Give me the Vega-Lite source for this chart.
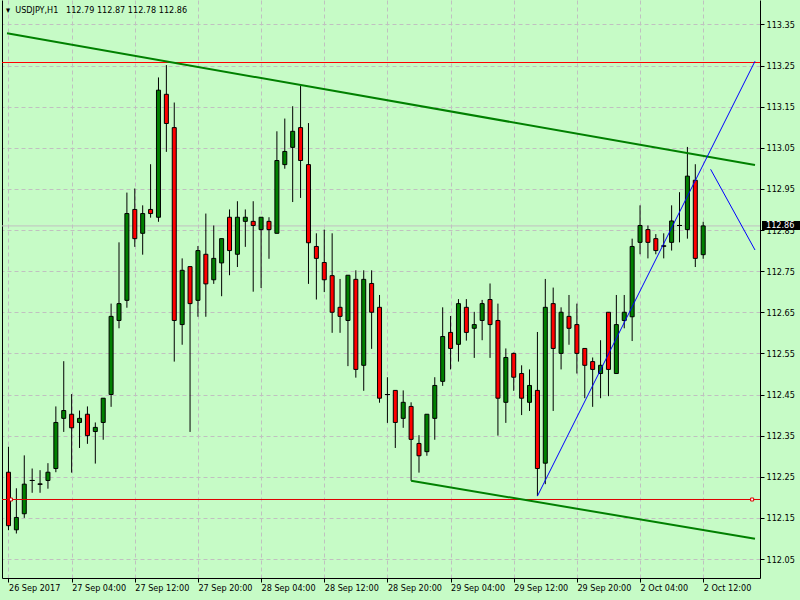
{
  "$schema": "https://vega.github.io/schema/vega-lite/v6.json",
  "width": 758,
  "height": 578,
  "autosize": {"type": "none"},
  "padding": {"left": 2, "top": 0, "right": 40, "bottom": 22},
  "background": "#c6fbc6",
  "title": {
    "text": "▾\u00a0\u00a0USDJPY,H1\u00a0\u00a0 112.79 112.87 112.78 112.86",
    "anchor": "start",
    "frame": "group",
    "orient": "top",
    "offset": -15,
    "baseline": "top",
    "dx": 4,
    "font": "DejaVu Sans Condensed, Liberation Sans",
    "fontSize": 9,
    "fontWeight": "normal",
    "color": "#000000"
  },
  "config": {
    "view": {"stroke": null},
    "axis": {"labelFont": "DejaVu Sans Condensed, Liberation Sans", "labelFontSize": 9, "labelColor": "#000000", "title": null}
  },
  "datasets": {
    "candles": [
      {"i":0,"o":112.261,"h":112.323,"l":112.120,"c":112.131},
      {"i":1,"o":112.121,"h":112.222,"l":112.112,"c":112.151},
      {"i":2,"o":112.160,"h":112.302,"l":112.150,"c":112.232},
      {"i":3,"o":112.241,"h":112.270,"l":112.211,"c":112.241},
      {"i":4,"o":112.232,"h":112.266,"l":112.211,"c":112.232},
      {"i":5,"o":112.241,"h":112.283,"l":112.221,"c":112.261},
      {"i":6,"o":112.270,"h":112.421,"l":112.261,"c":112.382},
      {"i":7,"o":112.392,"h":112.531,"l":112.359,"c":112.411},
      {"i":8,"o":112.402,"h":112.451,"l":112.260,"c":112.369},
      {"i":9,"o":112.382,"h":112.411,"l":112.320,"c":112.392},
      {"i":10,"o":112.402,"h":112.421,"l":112.330,"c":112.350},
      {"i":11,"o":112.360,"h":112.382,"l":112.282,"c":112.370},
      {"i":12,"o":112.382,"h":112.441,"l":112.340,"c":112.441},
      {"i":13,"o":112.450,"h":112.671,"l":112.420,"c":112.640},
      {"i":14,"o":112.630,"h":112.820,"l":112.611,"c":112.671},
      {"i":15,"o":112.679,"h":112.941,"l":112.661,"c":112.890},
      {"i":16,"o":112.900,"h":112.951,"l":112.809,"c":112.829},
      {"i":17,"o":112.842,"h":112.910,"l":112.790,"c":112.890},
      {"i":18,"o":112.900,"h":113.010,"l":112.880,"c":112.890},
      {"i":19,"o":112.881,"h":113.221,"l":112.870,"c":113.190},
      {"i":20,"o":113.180,"h":113.251,"l":113.040,"c":113.109},
      {"i":21,"o":113.099,"h":113.160,"l":112.530,"c":112.630},
      {"i":22,"o":112.620,"h":112.781,"l":112.571,"c":112.752},
      {"i":23,"o":112.761,"h":112.761,"l":112.359,"c":112.671},
      {"i":24,"o":112.679,"h":112.811,"l":112.639,"c":112.800},
      {"i":25,"o":112.791,"h":112.890,"l":112.639,"c":112.719},
      {"i":26,"o":112.729,"h":112.861,"l":112.719,"c":112.781},
      {"i":27,"o":112.770,"h":112.829,"l":112.689,"c":112.829},
      {"i":28,"o":112.881,"h":112.900,"l":112.740,"c":112.800},
      {"i":29,"o":112.791,"h":112.920,"l":112.760,"c":112.881},
      {"i":30,"o":112.871,"h":112.900,"l":112.809,"c":112.881},
      {"i":31,"o":112.871,"h":112.920,"l":112.700,"c":112.861},
      {"i":32,"o":112.851,"h":112.881,"l":112.709,"c":112.881},
      {"i":33,"o":112.871,"h":112.881,"l":112.780,"c":112.851},
      {"i":34,"o":112.842,"h":113.090,"l":112.842,"c":113.019},
      {"i":35,"o":113.009,"h":113.121,"l":112.999,"c":113.041},
      {"i":36,"o":113.051,"h":113.151,"l":112.918,"c":113.090},
      {"i":37,"o":113.099,"h":113.200,"l":112.928,"c":113.019},
      {"i":38,"o":113.009,"h":113.110,"l":112.719,"c":112.819},
      {"i":39,"o":112.810,"h":112.842,"l":112.681,"c":112.781},
      {"i":40,"o":112.771,"h":112.851,"l":112.699,"c":112.729},
      {"i":41,"o":112.739,"h":112.842,"l":112.600,"c":112.650},
      {"i":42,"o":112.662,"h":112.731,"l":112.600,"c":112.640},
      {"i":43,"o":112.630,"h":112.740,"l":112.519,"c":112.740},
      {"i":44,"o":112.730,"h":112.752,"l":112.491,"c":112.511},
      {"i":45,"o":112.521,"h":112.752,"l":112.459,"c":112.730},
      {"i":46,"o":112.720,"h":112.752,"l":112.561,"c":112.650},
      {"i":47,"o":112.662,"h":112.692,"l":112.430,"c":112.441},
      {"i":48,"o":112.450,"h":112.492,"l":112.381,"c":112.450},
      {"i":49,"o":112.460,"h":112.460,"l":112.320,"c":112.382},
      {"i":50,"o":112.392,"h":112.460,"l":112.369,"c":112.431},
      {"i":51,"o":112.421,"h":112.431,"l":112.240,"c":112.341},
      {"i":52,"o":112.331,"h":112.351,"l":112.260,"c":112.301},
      {"i":53,"o":112.311,"h":112.402,"l":112.301,"c":112.402},
      {"i":54,"o":112.392,"h":112.492,"l":112.340,"c":112.472},
      {"i":55,"o":112.482,"h":112.662,"l":112.471,"c":112.591},
      {"i":56,"o":112.601,"h":112.641,"l":112.511,"c":112.562},
      {"i":57,"o":112.572,"h":112.682,"l":112.530,"c":112.671},
      {"i":58,"o":112.662,"h":112.682,"l":112.581,"c":112.601},
      {"i":59,"o":112.611,"h":112.651,"l":112.539,"c":112.620},
      {"i":60,"o":112.630,"h":112.680,"l":112.582,"c":112.671},
      {"i":61,"o":112.681,"h":112.720,"l":112.539,"c":112.620},
      {"i":62,"o":112.630,"h":112.671,"l":112.350,"c":112.441},
      {"i":63,"o":112.431,"h":112.562,"l":112.381,"c":112.540},
      {"i":64,"o":112.550,"h":112.552,"l":112.459,"c":112.492},
      {"i":65,"o":112.501,"h":112.521,"l":112.400,"c":112.441},
      {"i":66,"o":112.431,"h":112.511,"l":112.410,"c":112.472},
      {"i":67,"o":112.460,"h":112.602,"l":112.203,"c":112.270},
      {"i":68,"o":112.283,"h":112.731,"l":112.232,"c":112.662},
      {"i":69,"o":112.671,"h":112.710,"l":112.410,"c":112.562},
      {"i":70,"o":112.550,"h":112.662,"l":112.511,"c":112.650},
      {"i":71,"o":112.640,"h":112.692,"l":112.571,"c":112.611},
      {"i":72,"o":112.620,"h":112.671,"l":112.501,"c":112.550},
      {"i":73,"o":112.562,"h":112.562,"l":112.441,"c":112.521},
      {"i":74,"o":112.530,"h":112.540,"l":112.420,"c":112.511},
      {"i":75,"o":112.501,"h":112.582,"l":112.441,"c":112.521},
      {"i":76,"o":112.650,"h":112.650,"l":112.446,"c":112.511},
      {"i":77,"o":112.501,"h":112.692,"l":112.500,"c":112.620},
      {"i":78,"o":112.630,"h":112.692,"l":112.611,"c":112.650},
      {"i":79,"o":112.639,"h":112.829,"l":112.580,"c":112.810},
      {"i":80,"o":112.820,"h":112.910,"l":112.791,"c":112.861},
      {"i":81,"o":112.851,"h":112.861,"l":112.781,"c":112.820},
      {"i":82,"o":112.829,"h":112.840,"l":112.791,"c":112.800},
      {"i":83,"o":112.811,"h":112.842,"l":112.781,"c":112.811},
      {"i":84,"o":112.820,"h":112.910,"l":112.800,"c":112.872},
      {"i":85,"o":112.861,"h":112.942,"l":112.820,"c":112.861},
      {"i":86,"o":112.851,"h":113.052,"l":112.829,"c":112.981},
      {"i":87,"o":112.971,"h":113.010,"l":112.760,"c":112.781},
      {"i":88,"o":112.790,"h":112.870,"l":112.780,"c":112.860}
    ],
    "current": [{"price": 112.86}],
    "hlines": [{"name": "resistance", "p": 113.2573}, {"name": "support", "p": 112.1947}],
    "anchors": [{"i": 0.31, "p": 112.1947}, {"i": 94.2, "p": 112.1947}],
    "trend": [
      {"id": "upper", "i": -0.1875, "p": 113.3283},
      {"id": "upper", "i": 94.5625, "p": 113.0081},
      {"id": "lower", "i": 51, "p": 112.2404},
      {"id": "lower", "i": 94.5625, "p": 112.0991}
    ],
    "blue": [
      {"id": "rise", "i": 67, "p": 112.203},
      {"id": "rise", "i": 94.5625, "p": 113.2605},
      {"id": "fall", "i": 88.94, "p": 112.9976},
      {"id": "fall", "i": 94.5625, "p": 112.8014}
    ]
  },
  "layer": [
    {
      "data": {"name": "current"},
      "mark": {"type": "rule", "color": "#c0c0c0", "strokeWidth": 1},
      "encoding": {
        "y": {"field": "price", "type": "quantitative", "scale": {"domain": [112.0038, 113.4093], "nice": false, "zero": false}, "axis": null}
      }
    },
    {
      "data": {"name": "candles"},
      "mark": {"type": "rule", "color": "#000000", "strokeWidth": 1},
      "encoding": {
        "x": {
          "field": "i", "type": "quantitative",
          "scale": {"domain": [-0.1875, 94.5625], "nice": false, "zero": false},
          "axis": {
            "orient": "bottom",
            "values": [0,4,8,12,16,20,24,28,32,36,40,44,48,52,56,60,64,68,72,76,80,84,88,92],
            "labelExpr": "datum.value == 0 ? '26 Sep 2017' : datum.value == 8 ? '27 Sep 04:00' : datum.value == 16 ? '27 Sep 12:00' : datum.value == 24 ? '27 Sep 20:00' : datum.value == 32 ? '28 Sep 04:00' : datum.value == 40 ? '28 Sep 12:00' : datum.value == 48 ? '28 Sep 20:00' : datum.value == 56 ? '29 Sep 04:00' : datum.value == 64 ? '29 Sep 12:00' : datum.value == 72 ? '29 Sep 20:00' : datum.value == 80 ? '2 Oct 04:00' : datum.value == 88 ? '2 Oct 12:00' : ''",
            "labelAlign": "left",
            "labelBaseline": "top",
            "labelPadding": 1,
            "labelFlush": false,
            "labelOverlap": false,
            "labelBound": false,
            "tickSize": 4,
            "tickColor": "#000000",
            "tickOpacity": {"condition": {"test": "datum.value % 8 !== 0", "value": 0}, "value": 1},
            "domainColor": "#000000",
            "grid": true,
            "gridColor": {"condition": {"test": "datum.value == 4 || datum.value == 28 || datum.value == 52 || datum.value == 76", "value": "#000000"}, "value": "#c0c0c0"},
            "gridDash": {"condition": {"test": "datum.value == 4 || datum.value == 28 || datum.value == 52 || datum.value == 76", "value": [3, 2]}, "value": [4, 3]},
            "title": null
          }
        },
        "y": {
          "field": "l", "type": "quantitative",
          "scale": {"domain": [112.0038, 113.4093], "nice": false, "zero": false},
          "axis": {
            "orient": "right",
            "values": [112.05,112.15,112.25,112.35,112.45,112.55,112.65,112.75,112.85,112.95,113.05,113.15,113.25,113.35],
            "format": ".2f",
            "grid": true,
            "gridColor": "#c0c0c0",
            "gridDash": [4, 3],
            "tickSize": 4,
            "tickColor": "#000000",
            "domainColor": "#000000",
            "labelPadding": 2,
            "labelBaseline": "middle",
            "labelOverlap": false,
            "labelFlush": false,
            "labelBound": false,
            "title": null
          }
        },
        "y2": {"field": "h"}
      }
    },
    {
      "data": {"name": "candles"},
      "mark": {"type": "bar", "size": 4, "stroke": "#000000", "strokeWidth": 1},
      "encoding": {
        "x": {"field": "i", "type": "quantitative", "scale": {"domain": [-0.1875, 94.5625], "nice": false, "zero": false}},
        "y": {
          "field": "o", "type": "quantitative",
          "scale": {"domain": [112.0038, 113.4093], "nice": false, "zero": false},
          "axis": {"orient": "left", "labels": false, "ticks": false, "grid": false, "domainColor": "#000000", "title": null}
        },
        "y2": {"field": "c"},
        "fill": {"condition": {"test": "datum.c >= datum.o", "value": "#008000"}, "value": "#ff0000"}
      }
    },
    {
      "data": {"name": "candles"},
      "transform": [{"filter": "datum.o === datum.c"}],
      "mark": {"type": "tick", "orient": "horizontal", "color": "#000000", "thickness": 1, "size": 5, "opacity": 1},
      "encoding": {
        "x": {"field": "i", "type": "quantitative", "scale": {"domain": [-0.1875, 94.5625], "nice": false, "zero": false}},
        "y": {"field": "o", "type": "quantitative", "scale": {"domain": [112.0038, 113.4093], "nice": false, "zero": false}, "axis": null}
      }
    },
    {
      "data": {"name": "hlines"},
      "mark": {"type": "rule", "strokeWidth": 1},
      "encoding": {
        "y": {"field": "p", "type": "quantitative", "scale": {"domain": [112.0038, 113.4093], "nice": false, "zero": false}, "axis": null},
        "color": {"field": "name", "type": "nominal", "scale": {"domain": ["resistance", "support"], "range": ["#ff0000", "#dd0000"]}, "legend": null}
      }
    },
    {
      "data": {"name": "trend"},
      "mark": {"type": "line", "color": "#008000", "strokeWidth": 2},
      "encoding": {
        "x": {"field": "i", "type": "quantitative", "scale": {"domain": [-0.1875, 94.5625], "nice": false, "zero": false}},
        "y": {"field": "p", "type": "quantitative", "scale": {"domain": [112.0038, 113.4093], "nice": false, "zero": false}, "axis": null},
        "detail": {"field": "id", "type": "nominal"}
      }
    },
    {
      "data": {"name": "blue"},
      "mark": {"type": "line", "color": "#0000ff", "strokeWidth": 1},
      "encoding": {
        "x": {"field": "i", "type": "quantitative", "scale": {"domain": [-0.1875, 94.5625], "nice": false, "zero": false}},
        "y": {"field": "p", "type": "quantitative", "scale": {"domain": [112.0038, 113.4093], "nice": false, "zero": false}, "axis": null},
        "detail": {"field": "id", "type": "nominal"}
      }
    },
    {
      "data": {"name": "anchors"},
      "mark": {"type": "point", "shape": "square", "filled": true, "fill": "#ffffff", "stroke": "#dd0000", "strokeWidth": 1, "size": 9, "opacity": 1},
      "encoding": {
        "x": {"field": "i", "type": "quantitative", "scale": {"domain": [-0.1875, 94.5625], "nice": false, "zero": false}},
        "y": {"field": "p", "type": "quantitative", "scale": {"domain": [112.0038, 113.4093], "nice": false, "zero": false}, "axis": null}
      }
    },
    {
      "data": {"name": "current"},
      "mark": {"type": "rect", "color": "#000000", "xOffset": 2, "x2Offset": 40, "yOffset": -5, "y2Offset": 4},
      "encoding": {
        "x": {"value": "width"},
        "x2": {"value": "width"},
        "y": {"field": "price", "type": "quantitative", "scale": {"domain": [112.0038, 113.4093], "nice": false, "zero": false}, "axis": null},
        "y2": {"field": "price"}
      }
    },
    {
      "data": {"name": "current"},
      "mark": {"type": "text", "align": "left", "baseline": "middle", "dx": 6, "dy": -0.5, "color": "#ffffff", "font": "DejaVu Sans Condensed, Liberation Sans", "fontSize": 9},
      "encoding": {
        "x": {"value": "width"},
        "y": {"field": "price", "type": "quantitative", "scale": {"domain": [112.0038, 113.4093], "nice": false, "zero": false}, "axis": null},
        "text": {"field": "price", "type": "quantitative", "format": ".2f"}
      }
    }
  ]
}
